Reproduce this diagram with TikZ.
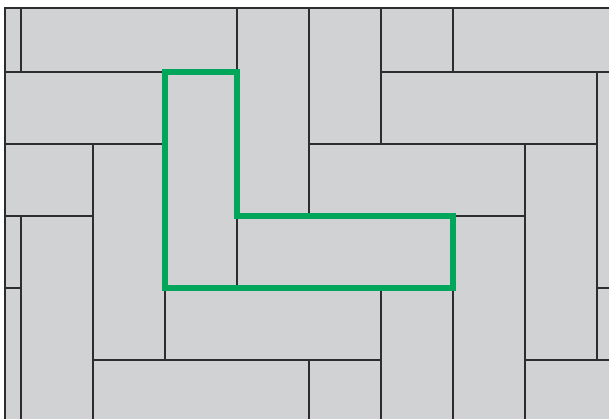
\documentclass[tikz,border=0pt]{standalone}
\definecolor{tilegray}{RGB}{209,210,212}
\definecolor{tileline}{RGB}{45,45,48}
\definecolor{hlgreen}{RGB}{0,166,90}
\tikzset{
  tile/.style={fill=tilegray, draw=tileline, line width=1.1pt},
  frame/.style={draw=tileline, line width=1.1pt},
  highlight/.style={draw=hlgreen, line width=5.2pt, line join=miter}
}
\begin{document}
\begin{tikzpicture}[x=1pt,y=-1pt]
\useasboundingbox (0,0) rectangle (609,419);
\begin{scope}
\clip (5,8) rectangle (609,419);
% horizontal tiles (3 units wide, 1 unit high), diagonals c+r = s
\foreach \s in {-6,0,6,12}{
  \foreach \r in {-2,...,7}{
    \pgfmathsetmacro\cc{\s-\r}
    \draw[tile] ({21+72*\cc},{72*\r}) rectangle ++(216,72);
  }
}
% vertical tiles (1 unit wide, 3 units high)
\foreach \s in {-3,3,9,15}{
  \foreach \r in {-3,...,7}{
    \pgfmathsetmacro\cc{\s-\r}
    \draw[tile] ({21+72*\cc},{72*\r}) rectangle ++(72,216);
  }
}
\end{scope}
\draw[frame] (5,419) -- (5,8) -- (609,8);
% highlighted L shape
\draw[highlight] (165,72) -- (237,72) -- (237,216) -- (453,216) -- (453,288) -- (165,288) -- cycle;
\end{tikzpicture}
\end{document}
